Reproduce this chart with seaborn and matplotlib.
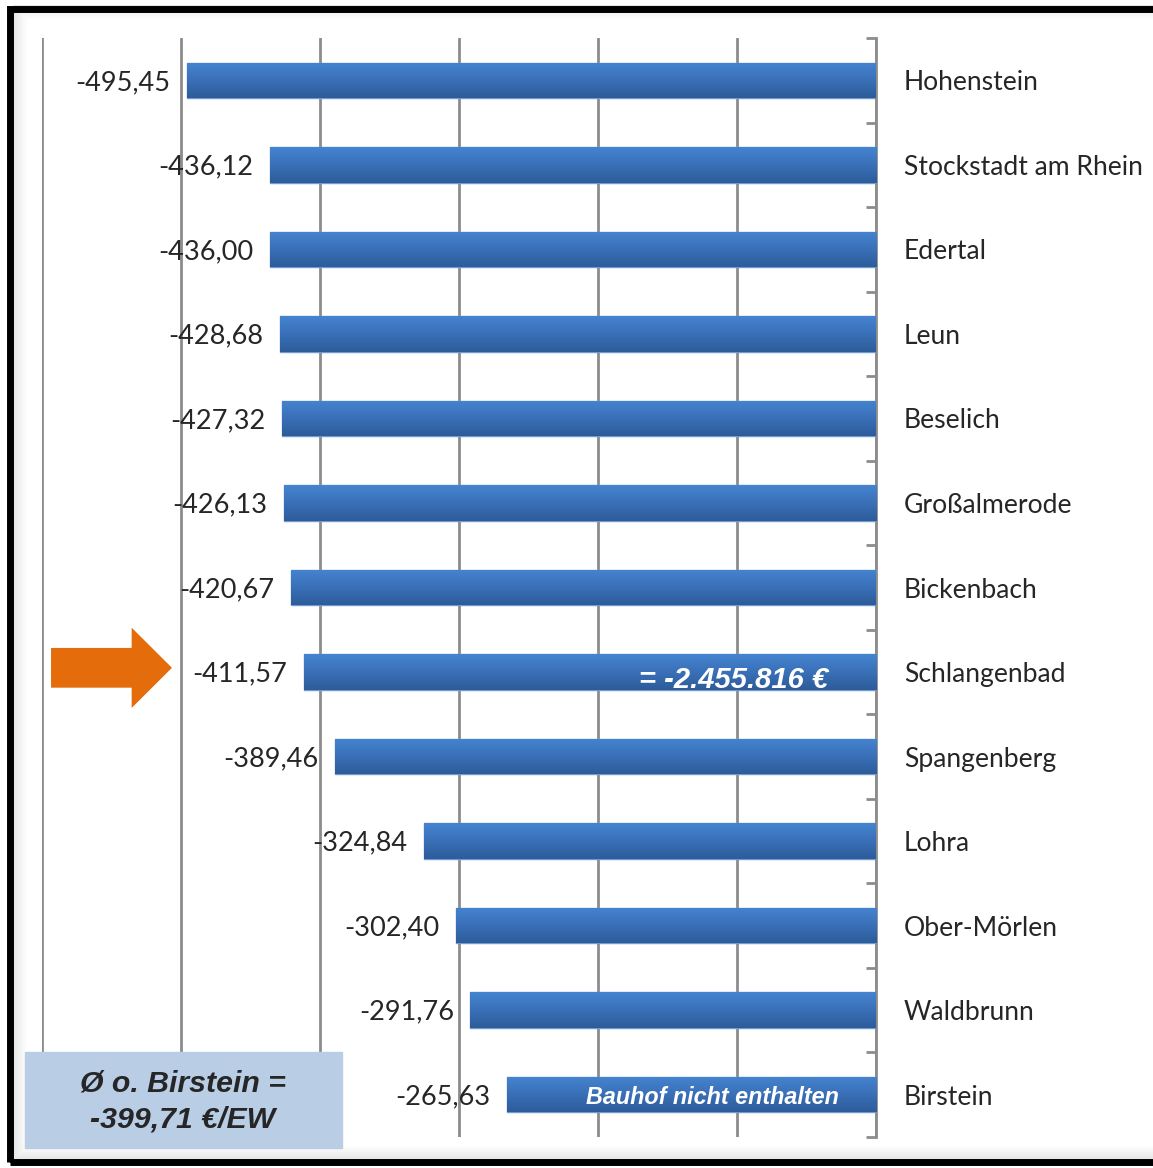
import matplotlib
matplotlib.use('Agg')
import matplotlib.pyplot as plt
import numpy as np
import pandas as pd
import seaborn as sns
from matplotlib.colors import LinearSegmentedColormap
from matplotlib.patches import Rectangle, FancyArrow

# Daten
gemeinden = ['Hohenstein', 'Stockstadt am Rhein', 'Edertal', 'Leun', 'Beselich',
             'Großalmerode', 'Bickenbach', 'Schlangenbad', 'Spangenberg', 'Lohra',
             'Ober-Mörlen', 'Waldbrunn', 'Birstein']
werte = [-495.45, -436.12, -436.00, -428.68, -427.32, -426.13, -420.67,
         -411.57, -389.46, -324.84, -302.40, -291.76, -265.63]
summe_schlangenbad = '= -2.455.816 €'
hinweis_birstein = 'Bauhof nicht enthalten'
durchschnitt = 'Ø o. Birstein =\n-399,71 €/EW'

sns.set_style('white')
plt.rcParams['font.family'] = ['Lato', 'DejaVu Sans']

W, H = 1153, 1168
fig = plt.figure(figsize=(W / 100, H / 100), dpi=100)
ax = fig.add_axes([42 / W, 1 - 1137 / H, (876 - 42) / W, (1137 - 38) / H])

df = pd.DataFrame({'Gemeinde': gemeinden, 'Wert': werte})
sns.barplot(data=df, x='Wert', y='Gemeinde', orient='h', color='#3A6FB5',
            saturation=1, width=0.42, edgecolor='#6E9BD4', linewidth=1,
            ax=ax, zorder=3)

# Farbverlauf auf den Balken
cmap = LinearSegmentedColormap.from_list('blau', ['#4584D0', '#3A70B8', '#2D5C99'])
grad = np.linspace(0, 1, 64).reshape(-1, 1)
for p in list(ax.patches):
    x0, y0, w, h = p.get_x(), p.get_y(), p.get_width(), p.get_height()
    im = ax.imshow(grad, cmap=cmap, aspect='auto', origin='upper',
                   extent=(x0, x0 + w, y0 + h, y0), zorder=3.5)
    im.set_clip_path(p)

ax.set_xlim(-600, 0)
ax.set_ylim(12.5, -0.5)
ax.set_xticks(range(-600, 1, 100))
ax.set_xticklabels([])
ax.xaxis.grid(True, color='#8C8C8C', lw=2)
ax.set_axisbelow(True)
ax.tick_params(axis='x', length=0)
ax.set_xlabel('')
ax.set_ylabel('')
for s in ['top', 'bottom', 'left']:
    ax.spines[s].set_visible(False)
ax.spines['right'].set_color('#8C8C8C')
ax.spines['right'].set_linewidth(2)

ax.yaxis.tick_right()
ax.tick_params(axis='y', which='major', length=0, pad=20, labelsize=19.1)
ax.set_yticks(np.arange(-0.5, len(gemeinden), 1), minor=True)
ax.tick_params(axis='y', which='minor', direction='in', length=7, width=2,
               color='#8C8C8C', right=True, left=False)

# Wertbeschriftungen
for i, v in enumerate(werte):
    ax.annotate(f'{v:.2f}'.replace('.', ','), xy=(v, i), xytext=(-12, -1.5),
                textcoords='offset points', ha='right', va='center', fontsize=19.5)

ax.text(-34, 7.1, summe_schlangenbad, ha='right', va='center', color='white',
        fontsize=21, fontweight='bold', fontstyle='italic',
        family='Liberation Sans', zorder=5)
ax.text(-118, 12.03, hinweis_birstein, ha='center', va='center', color='white',
        fontsize=16.8, fontweight='bold', fontstyle='italic',
        family='Liberation Sans', zorder=5)

# Pfeil
ax.add_patch(FancyArrow(-593.5, 6.95, 87, 0, width=0.47, head_width=0.95,
                        head_length=29, length_includes_head=True,
                        color='#E46C0A', lw=0, clip_on=False, zorder=5))

# Kasten Durchschnitt
fig.add_artist(Rectangle((25 / W, 1 - 1148 / H), 317 / W, 96 / H,
                         transform=fig.transFigure, color='#B9CDE5', zorder=5))
fig.text(183 / W, 1 - 1101.5 / H, durchschnitt, ha='center', va='center',
         fontsize=21.8, fontweight='bold', fontstyle='italic',
         family='Liberation Sans', linespacing=1.4, zorder=6)

# Rahmen mit Schatten
for k in range(14):
    fig.add_artist(Rectangle(((13 + k) / W, (9 + k) / H), (1200 - 13) / W,
                             (1163 - 9 - 2 * k) / H, transform=fig.transFigure,
                             fill=False, lw=0.72,
                             edgecolor=(0, 0, 0, 0.10 * (1 - k / 14)), zorder=0))
fig.add_artist(Rectangle((10 / W, 6.5 / H), (1200 - 10) / W, (1166 - 6.5 - 6.5) / H,
                         transform=fig.transFigure, fill=False, lw=5,
                         edgecolor='black', zorder=7))

fig.savefig('out.png', dpi=100)
